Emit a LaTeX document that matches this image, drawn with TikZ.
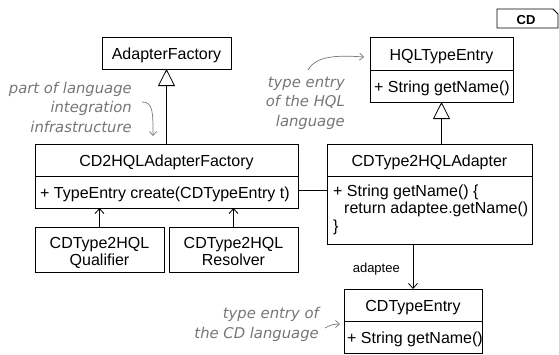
\documentclass[tikz,border=0pt]{standalone}
\usepackage{fontspec}
\setmainfont{Liberation Sans}
\newfontfamily\notefont{DejaVu Sans}
\usetikzlibrary{arrows.meta}
\definecolor{notegray}{RGB}{118,118,118}
\tikzset{
  classbox/.style={draw=black, line width=0.8pt, inner sep=0pt, outer sep=0pt},
  ctext/.style={font=\fontsize{16}{18}\selectfont, inner sep=0pt},
  twoline/.style={font=\fontsize{16}{17}\selectfont, inner sep=0pt, align=center},
  note/.style={font=\notefont\itshape\fontsize{14.8}{19.5}\selectfont, text=notegray, align=right, inner sep=0pt},
  notearrow/.style={draw=notegray, line width=0.7pt, -{Straight Barb[length=4pt,width=7pt]}},
  inherit/.style={draw, line width=0.8pt, -{Triangle[open,length=17pt,width=17pt,line width=0.8pt]}},
  assoc/.style={draw, line width=0.8pt, -{Straight Barb[length=5pt,width=9pt,line width=0.8pt]}},
  plainline/.style={draw, line width=0.8pt},
  divider/.style={draw, line width=0.8pt},
}
\begin{document}
\begin{tikzpicture}[x=1pt,y=-1pt]
\useasboundingbox (0,0) rectangle (559,354);

% CD tag
\draw[line width=0.8pt] (497,9) -- (553,9) -- (558,14) -- (558,28) -- (497,28) -- cycle;
\node[font=\bfseries\fontsize{13}{15}\selectfont, inner sep=0pt, anchor=base] (tag) at (526,24) {CD};

% AdapterFactory
\node[classbox, minimum width=129pt, minimum height=32pt] (af) at (166.5,53) {};
\node[ctext, anchor=base] (aft) at (166.5,59) {AdapterFactory};

% HQLTypeEntry
\node[classbox, minimum width=143pt, minimum height=65pt] (hql) at (441.5,69.5) {};
\draw[divider] (370,70) -- (513,70);
\node[ctext, anchor=base] (hqlt) at (441.5,60) {HQLTypeEntry};
\node[ctext, anchor=base west] (hqlm) at (374,92) {+ String getName()};

% CD2HQLAdapterFactory
\node[classbox, minimum width=263pt, minimum height=64pt] (fac) at (166.5,176) {};
\draw[divider] (35,176) -- (298,176);
\node[ctext, anchor=base] (fact) at (166.5,166) {CD2HQLAdapterFactory};
\node[ctext, anchor=base west] (facm) at (40,198) {+ TypeEntry create(CDTypeEntry t)};

% Qualifier / Resolver
\node[classbox, minimum width=129pt, minimum height=45pt] (qual) at (99.5,249.5) {};
\node[twoline, anchor=base] (qualt) at (99.5,248) {CDType2HQL};
\node[twoline, anchor=base] (qualt2) at (99.5,265) {Qualifier};
\node[classbox, minimum width=129pt, minimum height=45pt] (res) at (233.5,249.5) {};
\node[twoline, anchor=base] (rest) at (233.5,248) {CDType2HQL};
\node[twoline, anchor=base] (rest2) at (233.5,265) {Resolver};

% CDType2HQLAdapter
\node[classbox, minimum width=205pt, minimum height=100pt] (ad) at (429.5,194) {};
\draw[divider] (327,176) -- (532,176);
\node[ctext, anchor=base] (adt) at (429.5,166) {CDType2HQLAdapter};
\node[ctext, anchor=base west] (adm1) at (333,196) {+ String getName() \{};
\node[ctext, anchor=base west] (adm2) at (344,213) {return adaptee.getName()};
\node[ctext, anchor=base west] (adm3) at (333,231) {\}};

% CDTypeEntry
\node[classbox, minimum width=138pt, minimum height=64pt] (cdt) at (413,321) {};
\draw[divider] (344,321) -- (482,321);
\node[ctext, anchor=base] (cdtt) at (413,311) {CDTypeEntry};
\node[ctext, anchor=base west] (cdtm) at (347,343) {+ String getName()};

% connectors
\draw[inherit] (fac.north -| af.south) -- (af.south);
\draw[inherit] (hql.south |- ad.north) -- (hql.south);
\draw[assoc] (qual.north) -- (qual.north |- fac.south);
\draw[assoc] (res.north) -- (res.north |- fac.south);
\draw[plainline] (fac.east |- 0,190) -- (ad.west |- 0,190);
\draw[assoc] (cdt.north |- ad.south) -- (cdt.north);
\node[font=\fontsize{13}{15}\selectfont, inner sep=0pt, anchor=base east] (adl) at (400,272) {adaptee};

% notes
\node[note, anchor=east] (n1) at (132,107) {part of language\\integration\\infrastructure};
\coordinate (n1a) at (142,102);
\coordinate (n1b) at (153,136);
\draw[notearrow] (n1a) .. controls (153,102) and (153,112) .. (n1b);

\node[note, anchor=east] (n2) at (345,103) {type entry\\of the HQL\\language};
\coordinate (n2a) at (308,70);
\coordinate (n2b) at (364,57);
\draw[notearrow] (n2a) .. controls (316,56) and (336,55) .. (n2b);

\node[note, anchor=east] (n3) at (319,324.5) {type entry of\\the CD language};
\coordinate (n3a) at (325,328);
\coordinate (n3b) at (340,324);
\draw[notearrow] (n3a) .. controls (330,325) and (334,324) .. (n3b);
\end{tikzpicture}
\end{document}
